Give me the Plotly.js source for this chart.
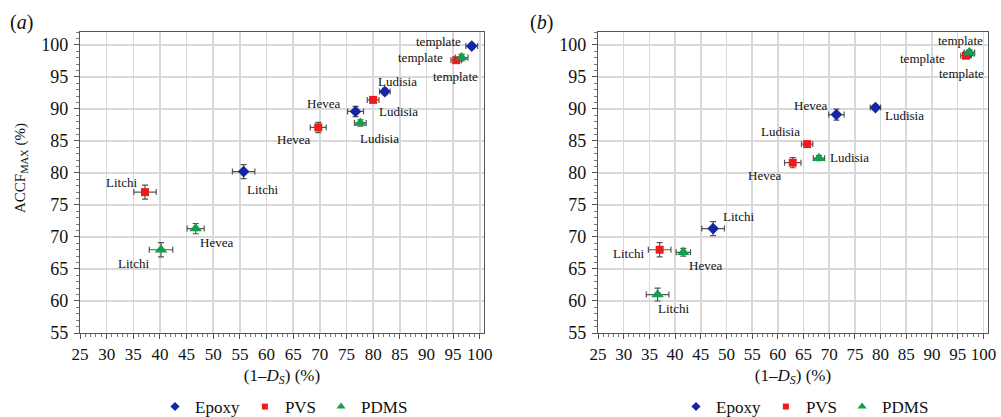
<!DOCTYPE html>
<html><head><meta charset="utf-8">
<script src="https://cdn.plot.ly/plotly-3.0.1.min.js"></script>
<style>html,body{margin:0;padding:0;background:#fff}</style>
</head><body><div id="chart" style="width:1001px;height:417px"></div>
<script>
// ---------- DATA ----------
const categories = ["template", "Ludisia", "Hevea", "Litchi"];
const seriesNames = ["Epoxy", "PVS", "PDMS"];

// Panel (a)
const epoxyA_x  = [98.5, 82.2, 76.7, 55.7];
const epoxyA_y  = [99.8, 92.7, 89.6, 80.2];
const epoxyA_ex = [1.1, 1.0, 1.5, 2.1];
const epoxyA_ey = [0.4, 0.5, 0.8, 1.1];

const pvsA_x  = [95.6, 80.0, 69.7, 37.2];
const pvsA_y  = [97.6, 91.4, 87.1, 77.0];
const pvsA_ex = [1.0, 1.1, 1.5, 2.1];
const pvsA_ey = [0.4, 0.4, 0.8, 1.1];

const pdmsA_x  = [96.6, 77.6, 46.7, 40.2];
const pdmsA_y  = [98.0, 87.8, 71.3, 68.0];
const pdmsA_ex = [1.2, 1.1, 1.6, 2.2];
const pdmsA_ey = [0.5, 0.5, 0.8, 1.1];

// Panel (b)
const epoxyB_x  = [97.2, 79.0, 71.4, 47.4];
const epoxyB_y  = [98.6, 90.2, 89.1, 71.3];
const epoxyB_ex = [1.0, 1.0, 1.5, 2.2];
const epoxyB_ey = [0.4, 0.4, 0.85, 1.1];

const pvsB_x  = [96.6, 65.7, 62.9, 37.0];
const pvsB_y  = [98.3, 84.5, 81.6, 68.0];
const pvsB_ex = [1.0, 1.1, 1.6, 2.2];
const pvsB_ey = [0.4, 0.4, 0.8, 1.1];

const pdmsB_x  = [97.3, 68.0, 41.6, 36.6];
const pdmsB_y  = [98.8, 82.3, 67.6, 61.0];
const pdmsB_ex = [1.0, 1.1, 1.4, 2.2];
const pdmsB_ey = [0.4, 0.4, 0.6, 1.0];

const xTickVals = [25,30,35,40,45,50,55,60,65,70,75,80,85,90,95,100];
const yTickVals = [55,60,65,70,75,80,85,90,95,100];

// ---------- STYLE / LAYOUT ----------
const FONT = "'Liberation Serif', 'Times New Roman', Times, serif";
const colors = {Epoxy: "#1426a6", PVS: "#ec1c1c", PDMS: "#12a04a"};
const symbols = {Epoxy: "diamond", PVS: "square", PDMS: "triangle-up"};
const msize = {Epoxy: 9, PVS: 8, PDMS: 11};
const legSize = {Epoxy: 7, PVS: 6, PDMS: 8};

// label pixel offsets [dx, dy] (dy positive = down), per panel/series/category
const labelOffsets = {
  a: {
    Epoxy: [[-33,-5],[13,-10],[-32,-8],[19,18]],
    PVS:   [[-36,-3],[25,12],[-25,12],[-24,-10]],
    PDMS:  [[-6,19],[19,16],[21,14],[-28,14]]
  },
  b: {
    Epoxy: [[-8,-13],[29,8],[-26,-9],[25,-12]],
    PVS:   [[-43,3],[-27,-13],[-28,13],[-31,4]],
    PDMS:  [[-8,21],[31,-1],[22,13],[16,14]]
  }
};

const panelData = {
  a: {Epoxy: [epoxyA_x, epoxyA_y, epoxyA_ex, epoxyA_ey],
      PVS: [pvsA_x, pvsA_y, pvsA_ex, pvsA_ey],
      PDMS: [pdmsA_x, pdmsA_y, pdmsA_ex, pdmsA_ey]},
  b: {Epoxy: [epoxyB_x, epoxyB_y, epoxyB_ex, epoxyB_ey],
      PVS: [pvsB_x, pvsB_y, pvsB_ex, pvsB_ey],
      PDMS: [pdmsB_x, pdmsB_y, pdmsB_ex, pdmsB_ey]}
};

const traces = [];
const annotations = [];
["a","b"].forEach((p, pi) => {
  const xa = pi === 0 ? "x" : "x2";
  const ya = pi === 0 ? "y" : "y2";
  seriesNames.forEach(s => {
    const [xs, ys, exs, eys] = panelData[p][s];
    traces.push({
      type: "scatter", mode: "markers", name: s,
      x: xs, y: ys, xaxis: xa, yaxis: ya, showlegend: false,
      marker: {symbol: symbols[s], size: msize[s], color: colors[s], line: {width: 0}},
      error_x: {type: "data", array: exs, visible: true, color: "#555", thickness: 1.2, width: 3},
      error_y: {type: "data", array: eys, visible: true, color: "#555", thickness: 1.2, width: 3},
      text: categories
    });
    // legend-only entry with smaller symbol, as in the reference
    traces.push({
      type: "scatter", mode: "markers", name: s,
      x: [null], y: [null], xaxis: xa, yaxis: ya, showlegend: true,
      legend: pi === 0 ? "legend" : "legend2",
      marker: {symbol: symbols[s], size: legSize[s], color: colors[s], line: {width: 0}}
    });
    categories.forEach((c, i) => {
      const off = labelOffsets[p][s][i];
      annotations.push({
        xref: xa, yref: ya, x: xs[i], y: ys[i], text: c, showarrow: false,
        xshift: off[0], yshift: -off[1],
        font: {family: FONT, size: 13, color: "#111"}
      });
    });
  });
});

annotations.push({xref: "paper", yref: "paper", x: 8/1001, y: 1 - 22/417, xanchor: "left", yanchor: "middle",
  text: "(<i>a</i>)", showarrow: false, font: {family: FONT, size: 20, color: "#111"}});
annotations.push({xref: "paper", yref: "paper", x: 528/1001, y: 1 - 22/417, xanchor: "left", yanchor: "middle",
  text: "(<i>b</i>)", showarrow: false, font: {family: FONT, size: 20, color: "#111"}});
// y-axis title of panel (a), placed as in the reference
annotations.push({xref: "paper", yref: "paper", x: 21/1001, y: 1 - 168/417, xanchor: "center", yanchor: "middle",
  textangle: -90, text: "ACCF<sub>MAX</sub> (%)", showarrow: false,
  font: {family: FONT, size: 15, color: "#111"}});

function xAxis(domain, range) {
  return {
    domain: domain, range: range, tickmode: "array", tickvals: xTickVals,
    ticks: "outside", ticklen: 5, tickcolor: "#555", tickwidth: 1, ticklabelstandoff: 0,
    minor: {dtick: 1, ticks: "outside", ticklen: 3, tickcolor: "#777", showgrid: false},
    showline: true, linecolor: "#555", linewidth: 1.2, mirror: true,
    showgrid: true, gridcolor: "#d9d9d9", gridwidth: 1.6, zeroline: false,
    tickfont: {family: FONT, size: 17, color: "#111"},
    title: {text: "(1–<i>D<sub>S</sub></i>) (%)", font: {family: FONT, size: 17, color: "#111"}, standoff: 6},
    fixedrange: true
  };
}
function yAxis(domain, anchor) {
  return {
    domain: domain, range: [55, 102], tickmode: "array", tickvals: yTickVals, anchor: anchor,
    ticks: "outside", ticklen: 5, tickcolor: "#555", tickwidth: 1, ticklabelstandoff: 2,
    minor: {dtick: 1, ticks: "outside", ticklen: 3, tickcolor: "#777", showgrid: false},
    showline: true, linecolor: "#555", linewidth: 1.2, mirror: true,
    showgrid: true, gridcolor: "#d9d9d9", gridwidth: 1.6, zeroline: false,
    tickfont: {family: FONT, size: 18, color: "#111"},
    fixedrange: true
  };
}

const yDom = [1 - 333/417, 1 - 32/417];
const ya = yAxis(yDom, "x");
const yb = yAxis(yDom, "x2");

const xa = xAxis([80/1001, 484/1001], [25, 100.8]);
xa.anchor = "y";
const xb = xAxis([598/1001, 988/1001], [25, 100.9]);
xb.anchor = "y2";

const legendBase = {
  orientation: "h", yref: "paper", y: 1 - 407/417, yanchor: "middle", xanchor: "center",
  font: {family: FONT, size: 17, color: "#111"}, itemwidth: 30, bgcolor: "rgba(0,0,0,0)",
  tracegroupgap: 0
};

const layout = {
  width: 1001, height: 417,
  margin: {l: 0, r: 0, t: 0, b: 0, autoexpand: false},
  paper_bgcolor: "#fff", plot_bgcolor: "#fff",
  font: {family: FONT, color: "#111"},
  xaxis: xa, yaxis: ya, xaxis2: xb, yaxis2: yb,
  showlegend: true,
  legend: Object.assign({}, legendBase, {x: 284/1001}),
  legend2: Object.assign({}, legendBase, {x: 805/1001}),
  annotations: annotations
};

Plotly.newPlot("chart", traces, layout, {displayModeBar: false, staticPlot: true});
</script>
</body></html>
